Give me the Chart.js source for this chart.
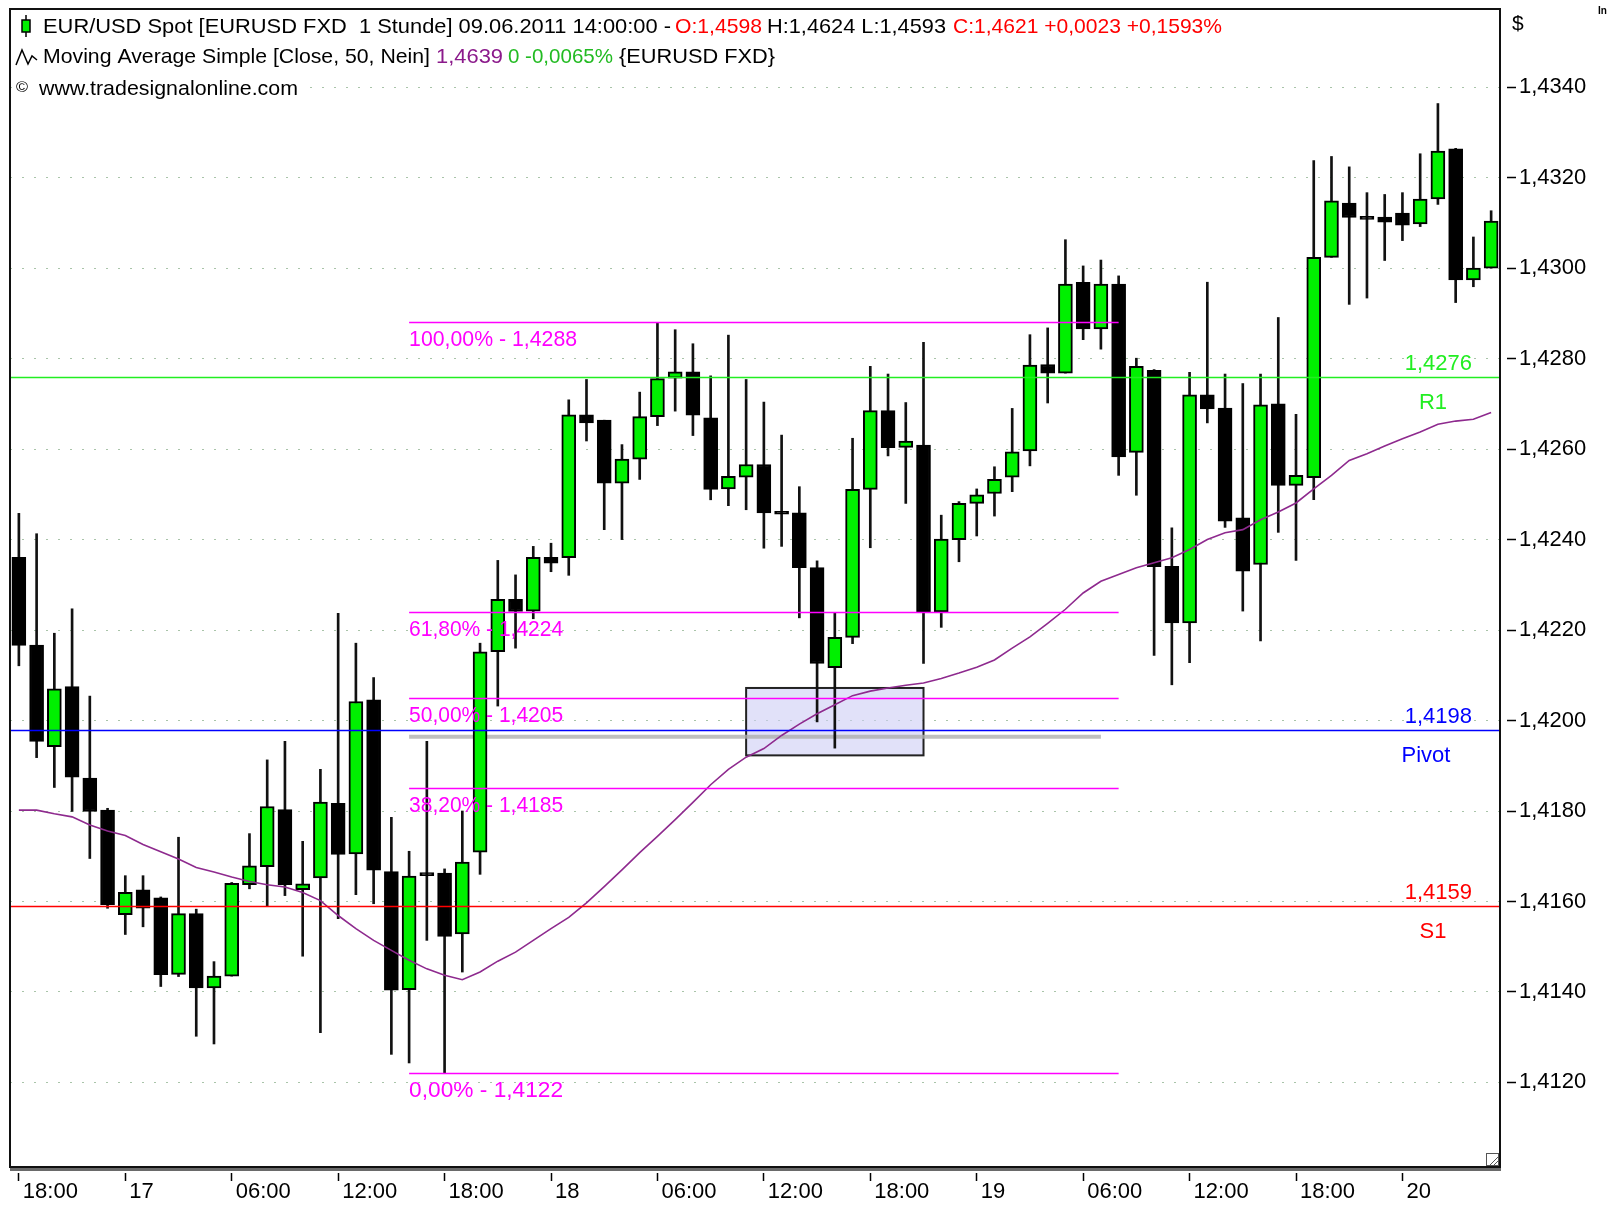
<!DOCTYPE html>
<html>
<head>
<meta charset="utf-8">
<script src="https://cdn.jsdelivr.net/npm/chart.js@4"></script>
<style>
  html, body { margin: 0; padding: 0; background: #fff; }
</style>
</head>
<body>
<canvas id="chart" width="1610" height="1209"></canvas>
<script>
// hourly candles, 16th 18:00 .. 20th 05:00
const categories = [
  '18:00','19:00','20:00','21:00','22:00','23:00',
  '17','01:00','02:00','03:00','04:00','05:00','06:00','07:00','08:00','09:00','10:00','11:00',
  '12:00','13:00','14:00','15:00','16:00','17:00','18:00','19:00','20:00','21:00','22:00','23:00',
  '18','01:00','02:00','03:00','04:00','05:00','06:00','07:00','08:00','09:00','10:00','11:00',
  '12:00','13:00','14:00','15:00','16:00','17:00','18:00','19:00','20:00','21:00','22:00','23:00',
  '19','01:00','02:00','03:00','04:00','05:00','06:00','07:00','08:00','09:00','10:00','11:00',
  '12:00','13:00','14:00','15:00','16:00','17:00','18:00','19:00','20:00','21:00','22:00','23:00',
  '20','01:00','02:00','03:00','04:00','05:00'
];

const openP = [1.42361,1.42167,1.41942,1.42075,1.41873,1.41802,1.41571,1.41626,1.41608,1.41439,
  1.41573,1.41409,1.41435,1.41637,1.41677,1.41803,1.41626,1.41652,1.41817,1.41705,
  1.42046,1.41666,1.41405,1.41660,1.41663,1.41528,1.41709,1.42152,1.42268,1.42242,
  1.42361,1.42360,1.42676,1.42664,1.42525,1.42578,1.42672,1.42757,1.42771,1.42669,
  1.42512,1.42538,1.42566,1.42459,1.42459,1.42338,1.42117,1.42184,1.42511,1.42685,
  1.42604,1.42609,1.42240,1.42400,1.42480,1.42502,1.42538,1.42596,1.42787,1.42768,
  1.42969,1.42866,1.42965,1.42593,1.42774,1.42341,1.42216,1.42720,1.42691,1.42448,
  1.42345,1.42700,1.42520,1.42537,1.43024,1.43144,1.43110,1.43113,1.43122,1.43098,
  1.43153,1.43264,1.42974,1.43000];
const highP = [1.42458,1.42413,1.42193,1.42247,1.42054,1.41806,1.41657,1.41657,1.41610,1.41742,
  1.41583,1.41467,1.41642,1.41750,1.41913,1.41954,1.41733,1.41892,1.42237,1.42171,
  1.42095,1.41786,1.41711,1.41954,1.41672,1.41800,1.42171,1.42354,1.42322,1.42385,
  1.42392,1.42709,1.42754,1.42664,1.42610,1.42726,1.42880,1.42864,1.42833,1.42762,
  1.42852,1.42754,1.42704,1.42631,1.42517,1.42353,1.42238,1.42624,1.42783,1.42766,
  1.42703,1.42836,1.42454,1.42484,1.42512,1.42561,1.42690,1.42853,1.42868,1.43063,
  1.43005,1.43018,1.42983,1.42801,1.42776,1.42426,1.42770,1.42969,1.42766,1.42745,
  1.42766,1.42891,1.42677,1.43238,1.43247,1.43224,1.43167,1.43163,1.43167,1.43253,
  1.43364,1.43265,1.43069,1.43127];
const lowP = [1.42121,1.41918,1.41852,1.41799,1.41695,1.41585,1.41527,1.41544,1.41412,1.41434,
  1.41302,1.41285,1.41435,1.41628,1.41589,1.41613,1.41479,1.41310,1.41562,1.41615,
  1.41595,1.41262,1.41243,1.41514,1.41220,1.41444,1.41660,1.42032,1.42160,1.42225,
  1.42329,1.42321,1.42618,1.42422,1.42400,1.42533,1.42652,1.42684,1.42630,1.42488,
  1.42475,1.42466,1.42381,1.42385,1.42227,1.41997,1.41939,1.42170,1.42382,1.42585,
  1.42480,1.42126,1.42206,1.42351,1.42408,1.42452,1.42506,1.42563,1.42702,1.42768,
  1.42842,1.42821,1.42542,1.42498,1.42144,1.42079,1.42128,1.42658,1.42427,1.42242,
  1.42176,1.42416,1.42354,1.42488,1.43024,1.42920,1.42934,1.43017,1.43061,1.43092,
  1.43141,1.42924,1.42959,1.43000];
const closeP = [1.42166,1.41954,1.42070,1.41875,1.41799,1.41593,1.41620,1.41585,1.41438,1.41573,
  1.41409,1.41435,1.41640,1.41679,1.41810,1.41637,1.41639,1.41820,1.41704,1.42042,
  1.41669,1.41404,1.41656,1.41657,1.41523,1.41687,1.42152,1.42268,1.42241,1.42361,
  1.42348,1.42676,1.42658,1.42525,1.42578,1.42672,1.42756,1.42771,1.42675,1.42511,
  1.42540,1.42566,1.42459,1.42456,1.42338,1.42126,1.42184,1.42511,1.42685,1.42603,
  1.42618,1.42240,1.42401,1.42480,1.42499,1.42533,1.42594,1.42786,1.42768,1.42965,
  1.42866,1.42965,1.42583,1.42783,1.42340,1.42216,1.42720,1.42689,1.42441,1.42330,
  1.42698,1.42520,1.42542,1.43024,1.43149,1.43112,1.43108,1.43102,1.43095,1.43153,
  1.43259,1.42974,1.43000,1.43104];

// SMA 50
const maValues = [1.41802,1.41802,1.41794,1.41787,1.41769,1.41756,1.41746,1.41726,1.41710,1.41694,
  1.41675,1.41665,1.41654,1.41644,1.41637,1.41632,1.41620,1.41602,1.41569,1.41540,
  1.41514,1.41492,1.41470,1.41451,1.41437,1.41427,1.41444,1.41468,1.41488,1.41514,
  1.41540,1.41565,1.41597,1.41633,1.41670,1.41708,1.41744,1.41781,1.41819,1.41858,
  1.41892,1.41919,1.41938,1.41967,1.41992,1.42015,1.42035,1.42055,1.42065,1.42072,
  1.42078,1.42083,1.42093,1.42105,1.42118,1.42134,1.42160,1.42185,1.42215,1.42246,
  1.42282,1.42308,1.42323,1.42338,1.42349,1.42360,1.42378,1.42400,1.42415,1.42422,
  1.42444,1.42461,1.42481,1.42512,1.42542,1.42575,1.42590,1.42607,1.42623,1.42638,
  1.42655,1.42662,1.42666,1.42681];

const yTicks = [1.412, 1.414, 1.416, 1.418, 1.420, 1.422, 1.424, 1.426, 1.428, 1.430, 1.432, 1.434];
const xTickIdx = [0, 6, 12, 18, 24, 30, 36, 42, 48, 54, 60, 66, 72, 78];

// pivot levels
const levelValues = [1.4276, 1.4198, 1.4159];
const levelNames = ['R1', 'Pivot', 'S1'];
const levelColors = ['#22ee22', '#0000ff', '#ff0000'];

// fibonacci retracement
const fibPct = ['100,00%', '61,80%', '50,00%', '38,20%', '0,00%'];
const fibValues = [1.4288, 1.4224, 1.4205, 1.4185, 1.4122];
const fibFrom = 22, fibTo = 62;

const grayLevel = 1.41964, grayFrom = 22, grayTo = 61;
const boxFrom = 41, boxTo = 51, boxTop = 1.42072, boxBottom = 1.41923;

const fmt = v => v.toFixed(4).replace('.', ',');
const FONT = "'Liberation Sans', Arial, sans-serif";
const GREEN = '#00f000';

function fitText(ctx, txt, x, y, w, color, size) {
  ctx.save();
  ctx.font = size + 'px ' + FONT;
  ctx.fillStyle = color;
  ctx.textBaseline = 'middle';
  const m = ctx.measureText(txt).width;
  ctx.translate(x, y);
  ctx.scale(w / m, 1);
  ctx.fillText(txt, 0, 0);
  ctx.restore();
}

const overlay = {
  id: 'overlay',
  beforeDatasetsDraw(chart) {
    const {ctx, scales: {x, y}} = chart;
    ctx.save();
    // highlighted zone
    const bx1 = x.getPixelForValue(boxFrom), bx2 = x.getPixelForValue(boxTo);
    const by1 = y.getPixelForValue(boxTop), by2 = y.getPixelForValue(boxBottom);
    ctx.fillStyle = 'rgba(205,205,245,0.6)';
    ctx.fillRect(bx1, by1, bx2 - bx1, by2 - by1);
    ctx.strokeStyle = '#222';
    ctx.lineWidth = 2;
    ctx.strokeRect(bx1, by1, bx2 - bx1, by2 - by1);
    // gray line
    const gy = y.getPixelForValue(grayLevel);
    ctx.strokeStyle = 'rgba(175,175,175,0.8)';
    ctx.lineWidth = 4;
    ctx.beginPath();
    ctx.moveTo(x.getPixelForValue(grayFrom), gy);
    ctx.lineTo(x.getPixelForValue(grayTo), gy);
    ctx.stroke();
    ctx.restore();
  },
  afterDatasetsDraw(chart) {
    const {ctx, chartArea: a, scales: {x, y}} = chart;
    ctx.save();
    // fib lines
    const fx1 = x.getPixelForValue(fibFrom), fx2 = x.getPixelForValue(fibTo);
    fibValues.forEach((v, i) => {
      const py = Math.round(y.getPixelForValue(v)) + 0.5;
      ctx.strokeStyle = '#ff00ff';
      ctx.lineWidth = 1.5;
      ctx.beginPath();
      ctx.moveTo(fx1, py);
      ctx.lineTo(fx2, py);
      ctx.stroke();
      const label = fibPct[i] + ' - ' + fmt(v);
      fitText(ctx, label, fx1, py + 17, label.length > 15 ? 168 : 154, '#ff00ff', 22);
    });
    // pivot levels
    levelValues.forEach((v, i) => {
      const py = Math.round(y.getPixelForValue(v)) + 0.5;
      ctx.strokeStyle = levelColors[i];
      ctx.lineWidth = 1.5;
      ctx.beginPath();
      ctx.moveTo(a.left, py);
      ctx.lineTo(a.right, py);
      ctx.stroke();
      ctx.font = '22px ' + FONT;
      ctx.fillStyle = levelColors[i];
      ctx.textBaseline = 'middle';
      ctx.textAlign = 'right';
      ctx.fillText(fmt(v), a.right - 28, py - 14);
      ctx.textAlign = 'center';
      ctx.fillText(levelNames[i], a.right - (levelNames[i] === 'Pivot' ? 74 : 67), py + 25);
    });
    ctx.restore();
  },
  afterDraw(chart) {
    const {ctx, chartArea: a} = chart;
    ctx.save();
    // frame
    ctx.strokeStyle = '#6a6a6a';
    ctx.lineWidth = 3;
    ctx.beginPath();
    ctx.moveTo(a.left, a.bottom + 2.5);
    ctx.lineTo(a.right + 1, a.bottom + 2.5);
    ctx.stroke();
    ctx.strokeStyle = '#111';
    ctx.lineWidth = 2;
    ctx.strokeRect(a.left, a.top, a.right - a.left, a.bottom - a.top);
    // resize grip
    ctx.strokeStyle = '#555';
    ctx.lineWidth = 1;
    ctx.strokeRect(a.right - 13.5, a.bottom - 13.5, 12, 12);
    ctx.beginPath();
    ctx.moveTo(a.right - 10, a.bottom - 2);
    ctx.lineTo(a.right - 2, a.bottom - 10);
    ctx.moveTo(a.right - 6, a.bottom - 2);
    ctx.lineTo(a.right - 2, a.bottom - 6);
    ctx.stroke();

    // header
    ctx.fillStyle = '#fff';
    ctx.fillRect(12, 76, 292, 26);
    // candle icon
    ctx.strokeStyle = '#000';
    ctx.lineWidth = 1.5;
    ctx.beginPath();
    ctx.moveTo(26, 15);
    ctx.lineTo(26, 37);
    ctx.stroke();
    ctx.fillStyle = GREEN;
    ctx.fillRect(22, 20, 8, 12);
    ctx.strokeRect(22, 20, 8, 12);
    fitText(ctx, 'EUR/USD Spot [EURUSD FXD  1 Stunde] 09.06.2011 14:00:00 -', 43, 27, 628, '#000', 21);
    fitText(ctx, 'O:1,4598', 675, 27, 87, '#ff0000', 21);
    fitText(ctx, 'H:1,4624 L:1,4593', 767, 27, 179, '#000', 21);
    fitText(ctx, 'C:1,4621 +0,0023 +0,1593%', 953, 27, 269, '#ff0000', 21);
    // wave icon
    ctx.strokeStyle = '#000';
    ctx.lineWidth = 1.5;
    ctx.beginPath();
    ctx.moveTo(16, 65);
    ctx.lineTo(22, 50);
    ctx.lineTo(28, 64);
    ctx.lineTo(32, 56);
    ctx.lineTo(37, 60);
    ctx.stroke();
    fitText(ctx, 'Moving Average Simple [Close, 50, Nein]', 43, 57, 387, '#000', 21);
    fitText(ctx, '1,4639', 436, 57, 67, '#8b1a8b', 21);
    fitText(ctx, '0 -0,0065%', 508, 57, 105, '#22bb22', 21);
    fitText(ctx, '{EURUSD FXD}', 619, 57, 156, '#000', 21);
    fitText(ctx, '\u00a9', 16, 88, 12, '#000', 15);
    fitText(ctx, 'www.tradesignalonline.com', 39, 89, 259, '#000', 21);
    // currency mark
    ctx.font = '21px ' + FONT;
    ctx.fillStyle = '#000';
    ctx.textBaseline = 'middle';
    ctx.textAlign = 'left';
    ctx.fillText('$', 1512, 24);
    ctx.font = 'bold 10px ' + FONT;
    ctx.fillText('In', 1598, 11);
    ctx.restore();
  }
};

const ctx = document.getElementById('chart');

new Chart(ctx, {
  type: 'bar',
  data: {
    labels: categories,
    datasets: [
      {
        type: 'line',
        label: 'SMA 50',
        data: maValues,
        borderColor: '#8e2a8e',
        borderWidth: 1.6,
        pointRadius: 0,
        tension: 0,
        order: 0
      },
      {
        label: 'Body',
        data: openP.map((o, i) => [o, closeP[i]]),
        backgroundColor: openP.map((o, i) => closeP[i] >= o ? GREEN : '#000'),
        borderColor: '#000',
        borderWidth: 2,
        borderSkipped: false,
        barThickness: 14,
        minBarLength: 3,
        grouped: false,
        order: 1
      },
      {
        label: 'Wick',
        data: lowP.map((l, i) => [l, highP[i]]),
        backgroundColor: '#111',
        borderWidth: 0,
        barThickness: 2,
        grouped: false,
        order: 2
      }
    ]
  },
  options: {
    responsive: false,
    animation: false,
    layout: { padding: { left: 10, top: 9, right: 0, bottom: 0 } },
    plugins: {
      legend: { display: false },
      tooltip: { enabled: false },
      title: { display: false }
    },
    scales: {
      x: {
        type: 'category',
        offset: true,
        afterBuildTicks: s => { s.ticks = xTickIdx.map(i => ({ value: i })); },
        afterFit: s => { s.height = 42; s.paddingLeft = 0; s.paddingRight = 0; },
        border: { display: false },
        grid: {
          offset: false,
          drawOnChartArea: false,
          tickLength: 14,
          tickColor: '#000',
          tickWidth: 1.5,
          tickBorderDash: [0, 6, 8, 40]
        },
        ticks: {
          autoSkip: false,
          maxRotation: 0,
          align: 'start',
          labelOffset: 4,
          padding: 0,
          color: '#000',
          font: { family: FONT, size: 22, lineHeight: 1 }
        }
      },
      y: {
        position: 'right',
        min: 1.41013,
        max: 1.43573,
        afterBuildTicks: s => { s.ticks = yTicks.map(v => ({ value: v })); },
        afterFit: s => { s.width = 110; s.paddingTop = 0; s.paddingBottom = 0; },
        border: { display: false, dash: [2, 10] },
        grid: {
          color: '#a9c4a9',
          lineWidth: 1,
          borderDash: [2, 10],
          tickLength: 16,
          tickColor: '#000',
          tickWidth: 1.5,
          tickBorderDash: [0, 7, 9, 60]
        },
        ticks: {
          padding: 3,
          color: '#000',
          callback: v => fmt(v),
          font: { family: FONT, size: 22 }
        }
      }
    }
  },
  plugins: [overlay]
});
</script>
</body>
</html>
